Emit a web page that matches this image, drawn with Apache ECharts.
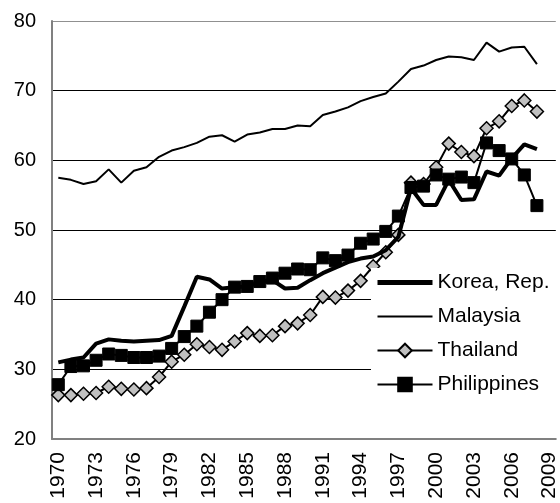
<!DOCTYPE html>
<html>
<head>
<meta charset="utf-8">
<script src="https://cdn.jsdelivr.net/npm/echarts@6/dist/echarts.min.js"></script>
<style>
html, body { margin: 0; padding: 0; background: #fff; }
#chart { width: 560px; height: 503px; }
</style>
</head>
<body>
<div id="chart"></div>
<script>
// years 1970..2009 on the axis, data runs to 2008
var years = [];
for (var y = 1970; y <= 2009; y++) years.push(String(y));

var korea = [31.0, 31.4, 31.7, 33.7, 34.3, 34.1, 34.0, 34.1, 34.2, 34.8,
  39.0, 43.3, 42.9, 41.6, 41.8, 41.9, 42.5, 42.8, 41.6, 41.7,
  42.8, 43.8, 44.6, 45.4, 45.9, 46.2, 47.1, 49.0, 56.0, 53.6,
  53.6, 57.2, 54.3, 54.4, 58.4, 57.8, 60.3, 62.3, 61.6];
var malaysia = [57.5, 57.2, 56.6, 57.0, 58.7, 56.8, 58.5, 59.0, 60.5, 61.4,
  61.9, 62.5, 63.4, 63.6, 62.7, 63.7, 64.0, 64.5, 64.5, 65.0,
  64.9, 66.5, 67.0, 67.6, 68.5, 69.1, 69.6, 71.3, 73.1, 73.6,
  74.4, 74.9, 74.8, 74.4, 76.9, 75.6, 76.2, 76.3, 73.8];
var thailand = [26.3, 26.3, 26.5, 26.6, 27.5, 27.2, 27.1, 27.3, 28.9, 31.1,
  32.1, 33.6, 33.2, 32.8, 34.0, 35.2, 34.8, 34.9, 36.2, 36.6,
  37.8, 40.4, 40.3, 41.3, 42.7, 44.8, 46.8, 49.3, 56.8, 56.6,
  59.0, 62.4, 61.2, 60.6, 64.6, 65.6, 67.8, 68.6, 67.0];
var philippines = [27.8, 30.4, 30.5, 31.3, 32.2, 32.0, 31.7, 31.7, 31.9, 33.0,
  34.7, 36.2, 38.2, 40.0, 41.8, 41.9, 42.6, 43.1, 43.8, 44.4,
  44.3, 46.0, 45.6, 46.4, 48.1, 48.7, 49.8, 52.0, 56.1, 56.3,
  57.9, 57.3, 57.6, 56.8, 62.5, 61.4, 60.2, 57.9, 53.5];

var chart = echarts.init(document.getElementById('chart'));
var option = {
  animation: false,
  textStyle: { fontFamily: 'Liberation Sans, Arial, sans-serif' },
  grid: { left: 52, top: 21, right: 3, bottom: 64 },
  legend: {
    orient: 'vertical',
    left: 371,
    top: 268,
    padding: [4, 30, 6, 4],
    backgroundColor: '#fff',
    itemWidth: 55,
    itemHeight: 17,
    itemGap: 13,
    textStyle: { fontSize: 21, color: '#000' },
    data: [
      { name: 'Korea, Rep.', itemStyle: { opacity: 0 }, lineStyle: { width: 5 } },
      { name: 'Malaysia', itemStyle: { opacity: 0 }, lineStyle: { width: 2 } },
      { name: 'Thailand' },
      { name: 'Philippines' }
    ]
  },
  xAxis: {
    type: 'category',
    data: years,
    boundaryGap: true,
    axisLine: { lineStyle: { color: '#808080', width: 2 } },
    axisTick: { interval: 0, length: 5, lineStyle: { color: '#808080' } },
    axisLabel: { interval: 2, rotate: 90, fontSize: 21, color: '#000', margin: 13 },
    splitLine: { show: false }
  },
  yAxis: {
    type: 'value',
    min: 20,
    max: 80,
    interval: 10,
    axisLine: { show: true, lineStyle: { color: '#808080', width: 2 } },
    axisTick: { show: false },
    axisLabel: { fontSize: 20, color: '#000', margin: 16 },
    splitLine: { lineStyle: { color: ['#000', '#000', '#000', '#000', '#000', '#000', '#909090'], width: 1 } }
  },
  series: [
    {
      name: 'Korea, Rep.', type: 'line', data: korea, z: 4,
      symbol: 'none', color: '#000',
      lineStyle: { color: '#000', width: 4 }
    },
    {
      name: 'Malaysia', type: 'line', data: malaysia, z: 3,
      symbol: 'none', color: '#000',
      lineStyle: { color: '#000', width: 2 }
    },
    {
      name: 'Thailand', type: 'line', data: thailand, z: 2,
      symbol: 'diamond', symbolSize: 13, showAllSymbol: true,
      lineStyle: { color: '#000', width: 2 },
      itemStyle: { color: '#c0c0c0', borderColor: '#000', borderWidth: 1.5 }
    },
    {
      name: 'Philippines', type: 'line', data: philippines, z: 3,
      symbol: 'rect', symbolSize: 12, showAllSymbol: true,
      lineStyle: { color: '#000', width: 2 },
      itemStyle: { color: '#000', borderColor: '#000', borderWidth: 1 }
    }
  ]
};
chart.setOption(option);
</script>
</body>
</html>
